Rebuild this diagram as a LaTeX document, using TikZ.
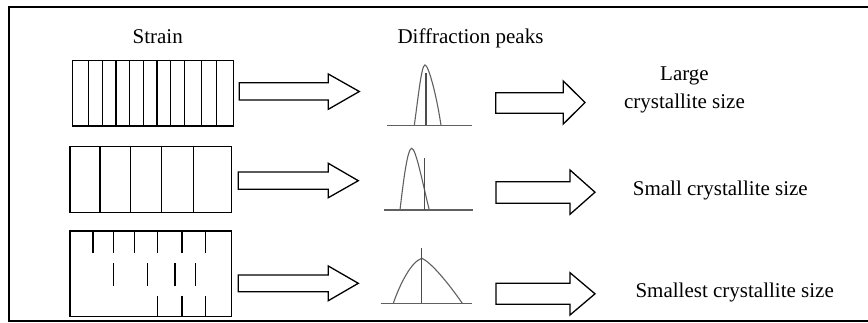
\documentclass[tikz,border=0pt]{standalone}
\usepackage{fontspec}
\setmainfont{Liberation Serif}
\begin{document}
\begin{tikzpicture}[x=1pt,y=-1pt,
  lbl/.style={inner sep=0pt, font=\fontsize{21}{28.5}\selectfont, align=center},
  frameline/.style={line width=1.6pt, black},
  crys/.style={line width=1.2pt, black},
  blockarrow/.style={line width=1.3pt, black, fill=white, line join=miter},
  peak/.style={line width=1.1pt, gray!75!black},
  peakline/.style={line width=1.1pt, black!70}]
\useasboundingbox (0,0) rectangle (868,322);
% frame (right edge outside the picture)
\draw[frameline] (870,7) -- (9,7) -- (9,320.7) -- (870,320.7);

% titles
\node[lbl, anchor=base] (strain) at (157.7,43) {Strain};
\node[lbl, anchor=base] (diffr) at (470.5,43) {Diffraction peaks};

% crystal blocks
\draw[crys] (72.3,60.3) rectangle (233.3,126);
\foreach \x in {88.7,102.3,116,129.7,143.3,157,170.7,184.3,201.7,216.7}
  \draw[crys] (\x,60.3) -- (\x,126);
\draw[crys] (70,146.7) rectangle (231.7,212.3);
\foreach \x in {100,130.3,161.7,193.3}
  \draw[crys] (\x,146.7) -- (\x,212.3);
\draw[crys] (70,231) rectangle (231.7,316.7);
\foreach \x in {93,113.7,134.7,157.3,182,205.7}
  \draw[crys] (\x,231) -- (\x,253.3);
\foreach \x in {113.7,147.7,175,195.3}
  \draw[crys] (\x,263.3) -- (\x,286);
\foreach \x in {157.3,182,205.7}
  \draw[crys] (\x,295.7) -- (\x,316.7);

% block arrows, first column
\draw[blockarrow] (239.3,82.7) -- (328.3,82.7) -- (328.3,74) -- (359.3,91.5) -- (328.3,109.3) -- (328.3,100) -- (239.3,100) -- cycle;
\draw[blockarrow] (238.3,172) -- (328.3,172) -- (328.3,163.3) -- (358.3,180.7) -- (328.3,197.7) -- (328.3,189.3) -- (238.3,189.3) -- cycle;
\draw[blockarrow] (238.3,275) -- (328.3,275) -- (328.3,266) -- (358.3,283.3) -- (328.3,300.7) -- (328.3,291.7) -- (238.3,291.7) -- cycle;

% block arrows, second column
\draw[blockarrow] (495.7,92.7) -- (563.3,92.7) -- (563.3,81) -- (585,102.5) -- (563.3,124) -- (563.3,113.3) -- (495.7,113.3) -- cycle;
\draw[blockarrow] (496,181.7) -- (570,181.7) -- (570,170) -- (595,192.2) -- (570,214.3) -- (570,203.3) -- (496,203.3) -- cycle;
\draw[blockarrow] (496,283.3) -- (570,283.3) -- (570,272.7) -- (595,293.8) -- (570,315) -- (570,304.3) -- (496,304.3) -- cycle;

% peaks
\draw[peak] (387.3,125.3) -- (471.7,125.3);
\draw[peak] (414.3,125.3) .. controls (418.5,95) and (421.5,65) .. (425,65) .. controls (428.5,65) and (436.5,95) .. (441,125.3);
\draw[peakline] (426,73) -- (426,125.3);

\draw[peak] (384.3,210) -- (472.7,210);
\draw[peak] (400,210) .. controls (403.5,180) and (407.5,148.3) .. (411.7,148.3) .. controls (416,148.3) and (423,185) .. (429.3,210);
\draw[peakline] (424.3,158.3) -- (424.3,210);

\draw[peak] (380.7,303.3) -- (472.3,303.3);
\draw[peak] (393.3,303.3) .. controls (400,284) and (411,262) .. (421.7,258.3) .. controls (431,262) and (449,284) .. (462.3,303.3);
\draw[peakline] (421.7,248.3) -- (421.7,303.3);

% result labels
\node[lbl, anchor=base] (large) at (684.5,108.5) {Large\\crystallite size};
\node[lbl, anchor=base] (small) at (720.3,195.7) {Small crystallite size};
\node[lbl, anchor=base] (smallest) at (734.7,297.7) {Smallest crystallite size};
\end{tikzpicture}
\end{document}
